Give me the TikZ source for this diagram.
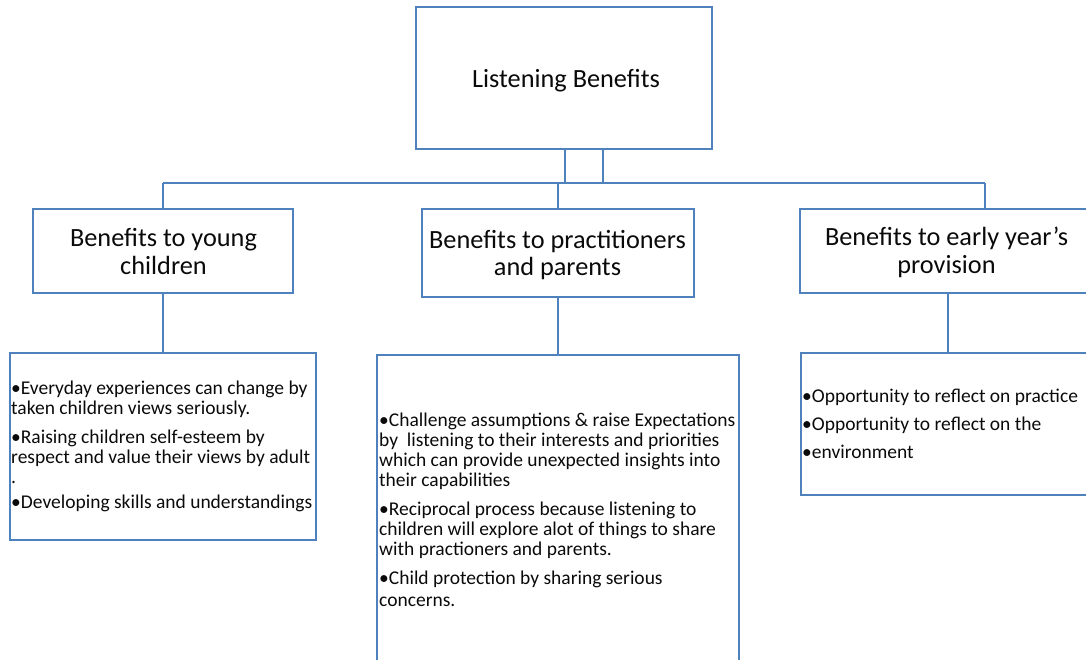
\documentclass[tikz,border=0pt]{standalone}
\usepackage{fontspec}
\setmainfont{Carlito}
\definecolor{boxblue}{RGB}{79,129,189}
\definecolor{txt}{RGB}{10,10,10}
\begin{document}
\begin{tikzpicture}[x=1pt,y=-1pt,
  box/.style={draw=boxblue, line width=1.9pt, rectangle, inner sep=0pt, outer sep=0pt},
  conn/.style={draw=boxblue, line width=1.9pt},
  head/.style={anchor=base, inner sep=0pt, text=txt, font=\fontsize{26.3}{31}\selectfont},
  item/.style={anchor=base west, inner sep=0pt, text=txt, font=\fontsize{19.5}{23}\selectfont}]
\useasboundingbox (0,0) rectangle (1086,660);
\clip (0,0) rectangle (1086,660);
% boxes
\node[box, minimum width=296pt, minimum height=142pt] (top) at (564,78) {};
\node[box, minimum width=260pt, minimum height=84pt] (b1) at (163,251) {};
\node[box, minimum width=272pt, minimum height=88pt] (b2) at (558,253) {};
\node[box, minimum width=296pt, minimum height=84pt] (b3) at (948,251) {};
\node[box, minimum width=306pt, minimum height=187pt] (c1) at (163,446.5) {};
\node[box, minimum width=362pt, minimum height=325pt] (c2) at (558,517.5) {};
\node[box, minimum width=294pt, minimum height=142pt] (c3) at (948,424) {};
% connectors
\coordinate (ja) at (565,183);
\coordinate (jb) at (603,183);
\coordinate (hl) at (163,183);
\coordinate (hr) at (985,183);
\draw[conn] (top.south -| ja) -- (ja) -- (jb) -- (top.south -| jb);
\draw[conn] (hl) -- (hr);
\draw[conn] (b1.north) -- (b1.north |- hl);
\draw[conn] (b2.north) -- (b2.north |- hl);
\draw[conn] (b3.north -| hr) -- (hr);
\draw[conn] (b1.south) -- (c1.north);
\draw[conn] (b2.south) -- (c2.north);
\draw[conn] (b3.south) -- (c3.north);
% headings
\node[head] (t0) at (566,88) {Listening Benefits};
\node[head] (t1a) at (163.5,247) {Benefits to young};
\node[head] (t1b) at (163.5,274) {children};
\node[head] (t2a) at (557.5,249) {Benefits to practitioners};
\node[head] (t2b) at (557.5,276) {and parents};
\node[head] (t3a) at (946.5,246) {Benefits to early year’s};
\node[head] (t3b) at (946.5,273) {provision};
% left items
\node[item] (l1) at (11,394) {•Everyday experiences can change by};
\node[item] (l2) at (11,414) {taken children views seriously.};
\node[item] (l3) at (11,443) {•Raising children self-esteem by};
\node[item] (l4) at (11,463) {respect and value their views by adult};
\node[item] (l5) at (11,483) {.};
\node[item] (l6) at (11,508) {•Developing skills and understandings};
% middle items
\node[item] (m1) at (379,426) {•Challenge assumptions \& raise Expectations};
\node[item] (m2) at (379,446) {by~ listening to their interests and priorities};
\node[item] (m3) at (379,466) {which can provide unexpected insights into};
\node[item] (m4) at (379,486) {their capabilities};
\node[item] (m5) at (379,515) {•Reciprocal process because listening to};
\node[item] (m6) at (379,535) {children will explore alot of things to share};
\node[item] (m7) at (379,555) {with practioners and parents.};
\node[item] (m8) at (379,584) {•Child protection by sharing serious};
\node[item] (m9) at (379,606) {concerns.};
% right items
\node[item] (r1) at (802,402) {•Opportunity to reflect on practice};
\node[item] (r2) at (802,430) {•Opportunity to reflect on the};
\node[item] (r3) at (802,458) {•environment};
\end{tikzpicture}
\end{document}
